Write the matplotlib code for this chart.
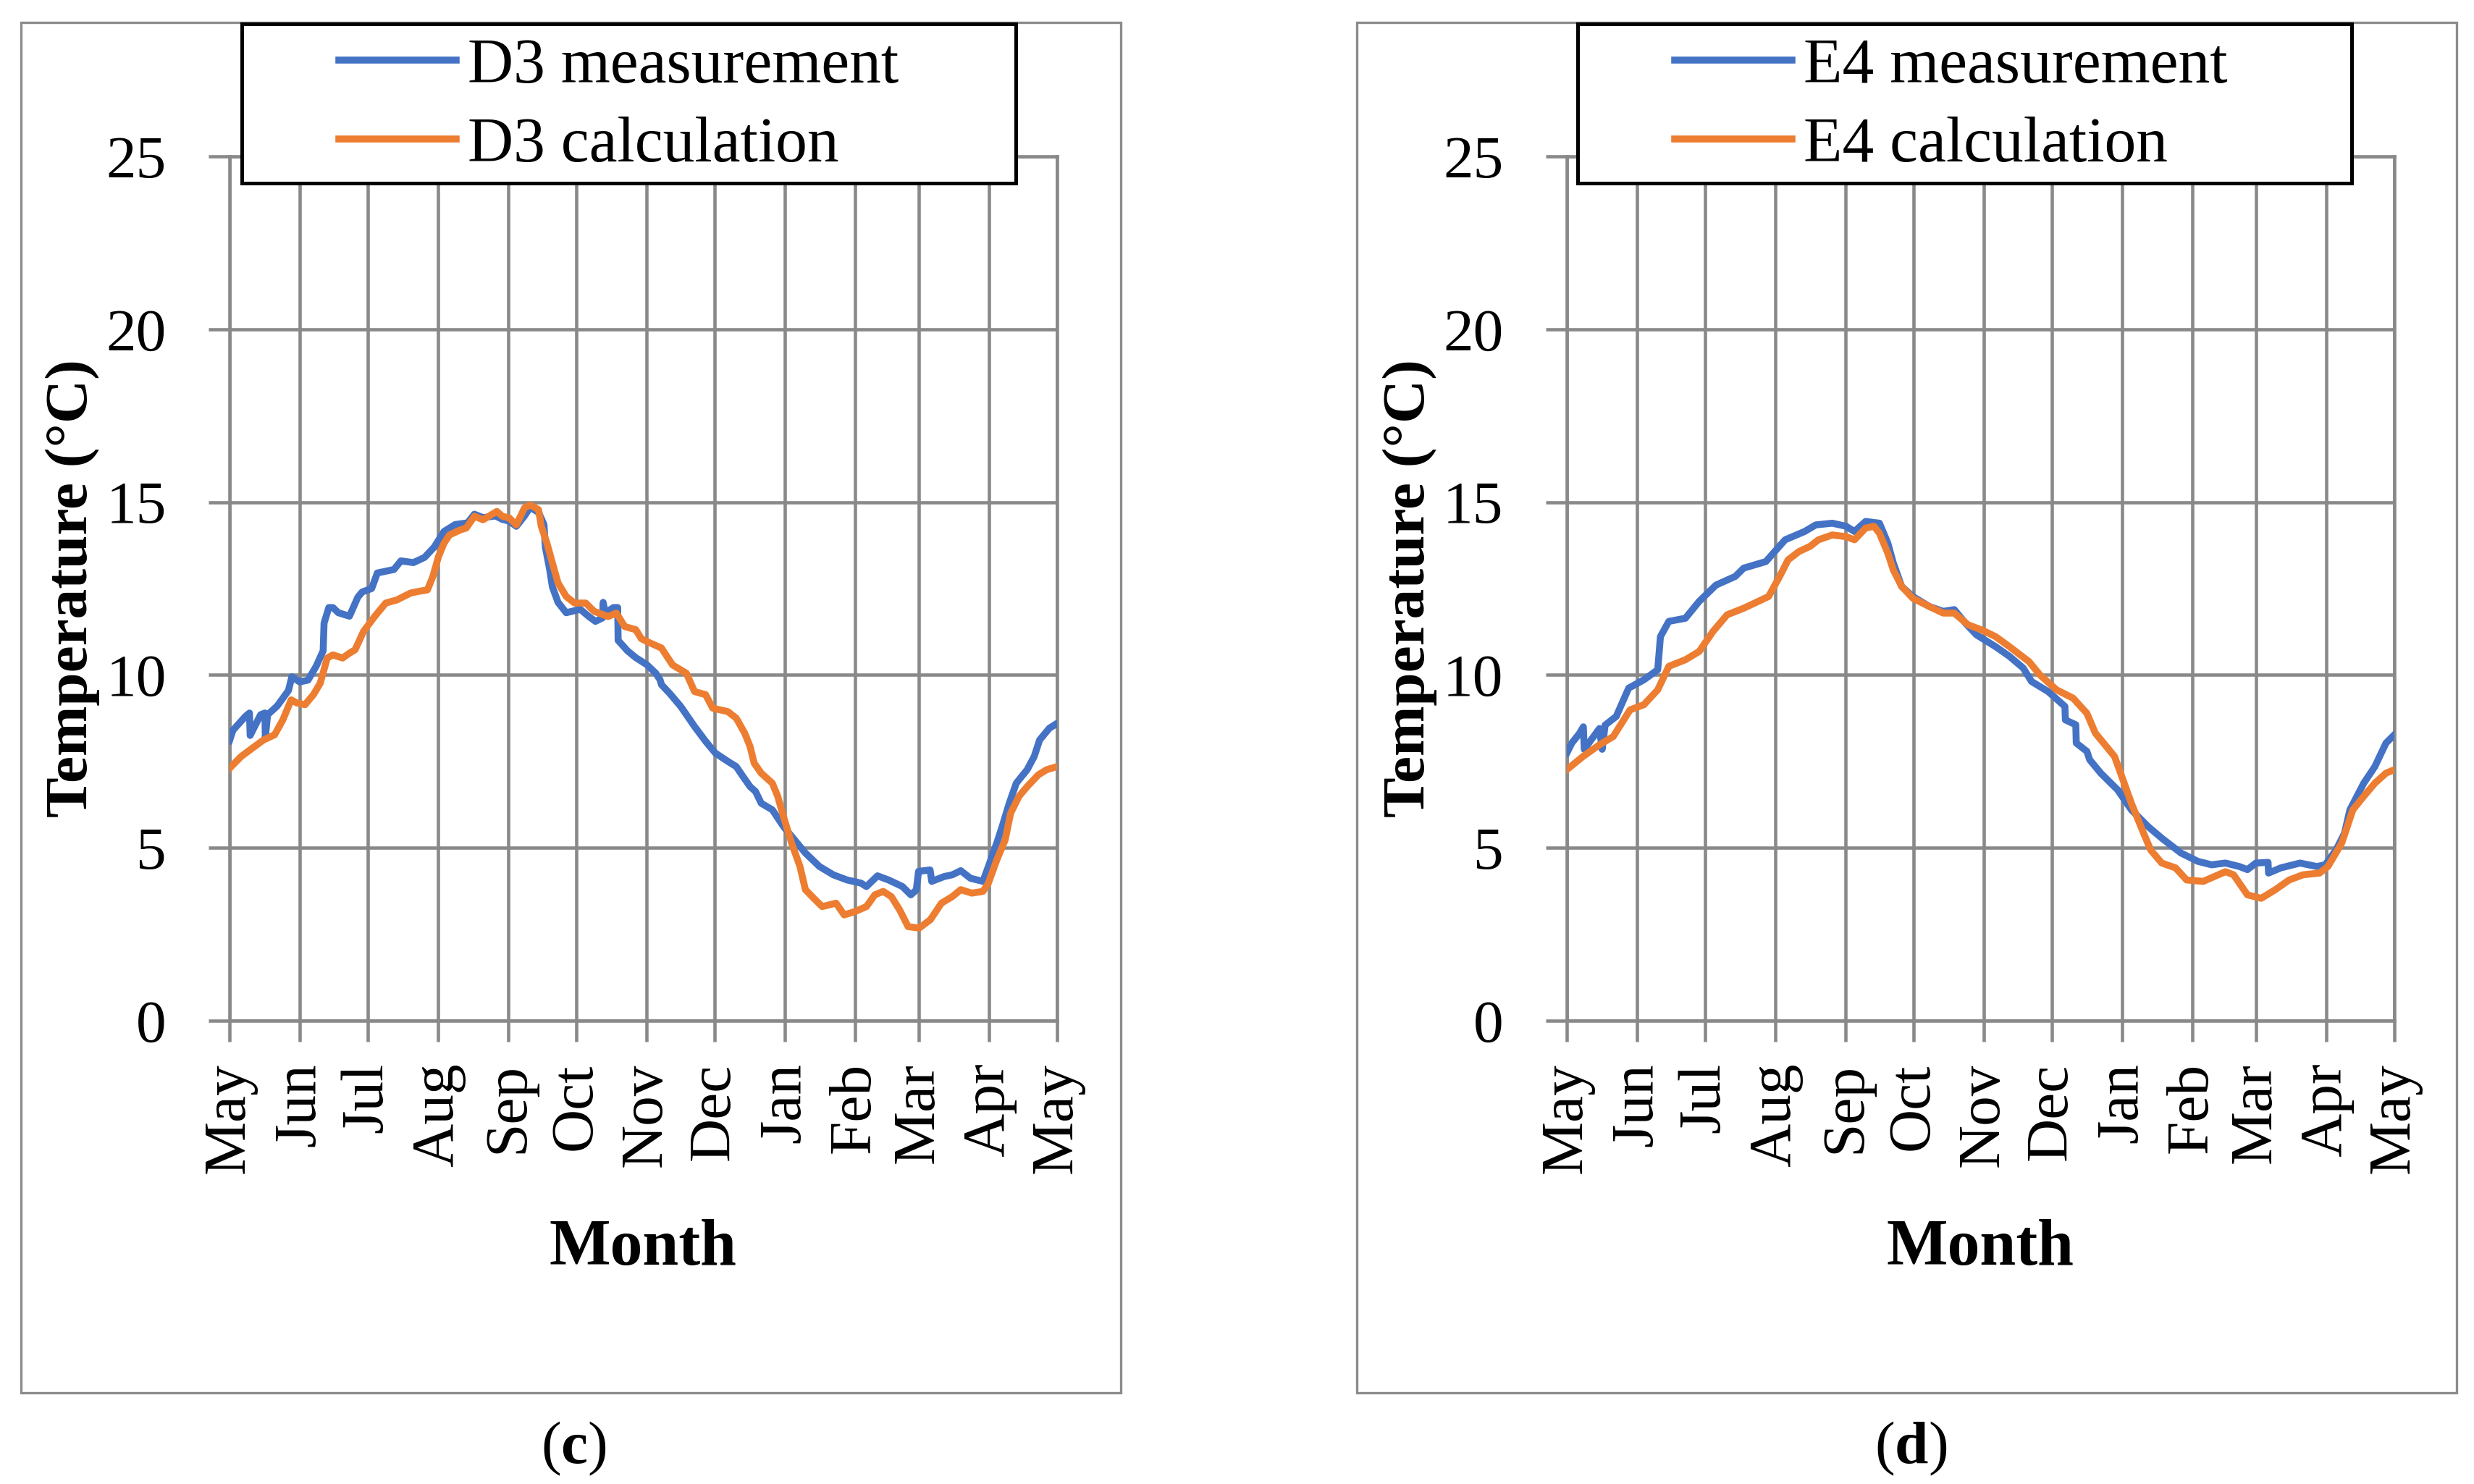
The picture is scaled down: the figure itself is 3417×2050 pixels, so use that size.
import matplotlib
matplotlib.use("Agg")
import matplotlib.pyplot as plt
import numpy as np
from matplotlib.patches import Rectangle
from matplotlib.lines import Line2D

# ---------------- data (day offset from 1 May, temperature °C) ----------------
month_labels = ["May", "Jun", "Jul", "Aug", "Sep", "Oct", "Nov", "Dec",
                "Jan", "Feb", "Mar", "Apr", "May"]
month_ticks = [0, 31, 61, 92, 123, 153, 184, 214, 245, 276, 304, 335, 365]
y_ticks = [0, 5, 10, 15, 20, 25]

d3_measurement = [
    (0, 8.1), (1.5, 8.4), (7, 8.8), (8.8, 8.9), (9.1, 8.25), (13.7, 8.85), (15.6, 8.9),
    (15.8, 8.2), (16.8, 8.85), (21, 9.1), (26, 9.55), (27.5, 9.95), (30.9, 9.8),
    (34.6, 9.85), (38.2, 10.25), (41.3, 10.7), (41.7, 11.5), (43.8, 11.95), (45.6, 11.95),
    (48, 11.8), (52.9, 11.7), (56.6, 12.25), (58.5, 12.4), (62.7, 12.5), (65.2, 12.95),
    (72.5, 13.05), (75.6, 13.3), (81.1, 13.25), (86, 13.4), (90.3, 13.7), (94.6, 14.15),
    (99.5, 14.35), (105, 14.4), (108, 14.65), (111.8, 14.55), (117.3, 14.6), (120.3, 14.5),
    (123.4, 14.45), (126.5, 14.3), (130.1, 14.6), (132.6, 14.85), (136.3, 14.7),
    (138.7, 14.35), (139.3, 13.7), (141.2, 13.05), (142.4, 12.55), (144.9, 12.1),
    (148.5, 11.8), (154.7, 11.9), (158.3, 11.7), (161.4, 11.55), (164.5, 11.65),
    (164.8, 12.1), (165.7, 11.8), (169.4, 11.95), (171.2, 11.95), (171.4, 11.0),
    (175.5, 10.7), (179.2, 10.5), (184, 10.3), (188, 10.05), (189.9, 9.86), (190.5, 9.72),
    (194.1, 9.47), (199, 9.09), (205.1, 8.51), (210, 8.08), (214.3, 7.74), (219.8, 7.5),
    (223.5, 7.35), (226.5, 7.06), (229.6, 6.77), (232, 6.63), (234.5, 6.29), (239.4, 6.1),
    (244.3, 5.62), (249.2, 5.23), (254, 4.85), (260.2, 4.46), (266.3, 4.22), (272.4, 4.07),
    (278.5, 3.98), (280.9, 3.88), (285.8, 4.19), (290.7, 4.07), (296.8, 3.88),
    (300.5, 3.64), (302.9, 3.78), (303.9, 4.32), (309, 4.36), (309.7, 4.03), (315.2, 4.17),
    (318.8, 4.22), (322.5, 4.34), (326.8, 4.12), (332.3, 4.03), (334.7, 4.46),
    (338.4, 5.14), (340.8, 5.62), (343.9, 6.29), (347, 6.87), (351.8, 7.26), (354.9, 7.64),
    (357.3, 8.12), (361.6, 8.46), (365, 8.6),
]

d3_calculation = [
    (0, 7.3), (5.1, 7.64), (10, 7.88), (15, 8.12), (19.9, 8.27), (23.5, 8.7), (27.2, 9.28),
    (29.7, 9.19), (33.3, 9.14), (37, 9.43), (40, 9.76), (43.1, 10.49), (45.6, 10.58),
    (49.9, 10.49), (52.9, 10.63), (55.4, 10.73), (59.1, 11.26), (64, 11.69), (68.9, 12.08),
    (73.8, 12.17), (79.9, 12.37), (83.6, 12.42), (87.3, 12.46), (89.7, 12.85),
    (92.2, 13.43), (94.6, 13.81), (97, 14.05), (102, 14.2), (104.4, 14.25), (108, 14.59),
    (111.8, 14.49), (117.9, 14.73), (120.3, 14.59), (123.4, 14.54), (126.5, 14.34),
    (130.1, 14.83), (132.6, 14.92), (136.3, 14.78), (137.5, 14.3), (140, 13.81),
    (142.4, 13.24), (144.9, 12.66), (148.5, 12.27), (152.2, 12.08), (157.1, 12.08),
    (160.8, 11.84), (167, 11.69), (170.6, 11.79), (174.3, 11.4), (179.2, 11.31),
    (181.6, 11.05), (184, 10.97), (190.5, 10.78), (195.4, 10.29), (201.5, 10.05),
    (205.1, 9.52), (210, 9.43), (213.1, 9.04), (219.8, 8.94), (223.5, 8.75), (227.2, 8.32),
    (229.6, 7.93), (231.4, 7.45), (234.5, 7.16), (239.4, 6.87), (241.8, 6.49),
    (244.3, 5.91), (247.9, 5.14), (251.6, 4.46), (254, 3.79), (257.7, 3.54), (261.4, 3.3),
    (267.5, 3.4), (271.1, 3.06), (276, 3.16), (280.9, 3.3), (284.6, 3.64), (288.3, 3.74),
    (291.9, 3.59), (295.6, 3.2), (299.3, 2.72), (304.2, 2.68), (309.1, 2.92), (314, 3.4),
    (318.8, 3.59), (322.5, 3.79), (327.4, 3.69), (332.3, 3.74), (334.7, 3.98),
    (338.4, 4.65), (342.1, 5.23), (344.5, 6.0), (348.2, 6.49), (351.8, 6.77),
    (356.7, 7.11), (360.4, 7.26), (365, 7.35),
]

e4_measurement = [
    (0, 7.74), (2.2, 8.03), (5.5, 8.3), (7.3, 8.5), (7.7, 7.85), (14.4, 8.45), (15.6, 7.85),
    (16.9, 8.55), (21.8, 8.8), (27.3, 9.62), (34, 9.86), (40.1, 10.15), (41.3, 11.11),
    (45, 11.55), (52.3, 11.64), (58.4, 12.13), (65.8, 12.6), (74.3, 12.85), (78, 13.09),
    (87.8, 13.28), (96.3, 13.91), (104.9, 14.15), (109.8, 14.34), (117.1, 14.39),
    (123.2, 14.3), (126.9, 14.15), (131.8, 14.44), (137.9, 14.39), (141.6, 13.81),
    (144, 13.24), (147.7, 12.56), (152.6, 12.27), (159.9, 11.98), (166, 11.84),
    (170.9, 11.89), (175.8, 11.5), (180.7, 11.16), (189.1, 10.82), (195.2, 10.54),
    (201.3, 10.2), (205, 9.81), (212.3, 9.52), (219.7, 9.09), (219.9, 8.7), (224.5, 8.56),
    (224.7, 8.03), (229.4, 7.79), (230.6, 7.55), (235.5, 7.16), (242.9, 6.68), (249, 6.1),
    (256.3, 5.62), (262.4, 5.28), (270.9, 4.85), (278.3, 4.61), (284.4, 4.51),
    (290.5, 4.56), (296.6, 4.46), (300.2, 4.37), (303.9, 4.56), (309.3, 4.58),
    (309.5, 4.27), (314.9, 4.42), (323.4, 4.56), (330.8, 4.46), (334.5, 4.51),
    (339.3, 4.94), (343, 5.42), (345.4, 6.1), (351.5, 6.87), (356.4, 7.35), (361.3, 8.03),
    (365, 8.27),
]

e4_calculation = [
    (0, 7.26), (7.1, 7.64), (14.4, 7.98), (20.5, 8.22), (27.9, 8.99), (34, 9.14),
    (40.1, 9.57), (45, 10.25), (52.3, 10.44), (58.4, 10.68), (64.5, 11.26), (70.7, 11.74),
    (78, 11.93), (82.9, 12.08), (89, 12.27), (93.9, 12.85), (97.6, 13.33), (102.4, 13.57),
    (107.3, 13.72), (111, 13.91), (117.1, 14.05), (123.2, 14.0), (126.9, 13.91),
    (131.8, 14.25), (135.5, 14.3), (137.9, 14.1), (141.6, 13.52), (144, 13.04),
    (147.7, 12.56), (152.6, 12.22), (159.9, 11.98), (166, 11.79), (170.9, 11.79),
    (177, 11.45), (183.1, 11.3), (189.1, 11.11), (195.2, 10.82), (203.8, 10.39),
    (208.7, 10.0), (216, 9.57), (223.3, 9.33), (229.4, 8.89), (233.1, 8.32), (238, 7.93),
    (241.6, 7.64), (245.3, 6.97), (249, 6.29), (253.8, 5.52), (257.5, 4.94), (262.4, 4.56),
    (268.5, 4.42), (273.4, 4.07), (280.7, 4.03), (285.6, 4.17), (290.5, 4.31),
    (294.1, 4.22), (300.2, 3.64), (306.3, 3.54), (312.5, 3.79), (318.6, 4.07),
    (324.7, 4.22), (332, 4.27), (335.7, 4.46), (341.8, 5.14), (346.7, 6.1), (351.5, 6.49),
    (356.4, 6.87), (361.3, 7.16), (365, 7.26),
]

panels = [
    ("D3 measurement", d3_measurement, "D3 calculation", d3_calculation, "c"),
    ("E4 measurement", e4_measurement, "E4 calculation", e4_calculation, "d"),
]

# ---------------- style ----------------
plt.rcParams["font.family"] = ["Liberation Serif", "DejaVu Serif"]
plt.rcParams["mathtext.fontset"] = "custom"
plt.rcParams["mathtext.rm"] = "Liberation Serif"
plt.rcParams["mathtext.bf"] = "Liberation Serif:bold"
BLUE = "#4472C4"
ORANGE = "#ED7D31"
GRID = "#898989"
FRAME = "#8c8c8c"

W, H, DPI = 3417, 2050, 300
fig = plt.figure(figsize=(W / DPI, H / DPI), dpi=DPI)
fig.patch.set_facecolor("white")


def fx(px):
    return px / W


def fy(py):
    return 1 - py / H


for i, (lab1, ser1, lab2, ser2, letter) in enumerate(panels):
    dx = 1847 * i      # axes offset
    dl = 1845 * i      # legend / frame offset

    # outer panel frame
    fig.add_artist(Rectangle((fx(29 + dl), fy(1924)), fx(1519), (1924 - 31) / H,
                             transform=fig.transFigure, fill=False, ec=FRAME,
                             lw=0.8, zorder=0))

    ax = fig.add_axes([fx(317 + dx), fy(1410), fx(1143), 1194 / H])
    d1, v1 = np.array(ser1).T
    d2, v2 = np.array(ser2).T
    ax.plot(d1, v1, color=BLUE, lw=2.3, solid_joinstyle="round", zorder=3)
    ax.plot(d2, v2, color=ORANGE, lw=2.3, solid_joinstyle="round", zorder=4)

    ax.set_xlim(0, 365)
    ax.set_ylim(0, 25)
    ax.set_xticks(month_ticks)
    ax.set_xticklabels(month_labels, rotation=90, ha="center", va="top")
    ax.set_yticks(y_ticks)
    ax.grid(True, color=GRID, lw=1.1)
    ax.set_axisbelow(True)
    for sp in ax.spines.values():
        sp.set_color(GRID)
        sp.set_linewidth(1.1)
    ax.tick_params(direction="out", length=7, width=1.1, color=GRID,
                   labelsize=20, labelcolor="black")
    ax.tick_params(axis="x", pad=7)
    ax.tick_params(axis="y", pad=14)

    ax.set_ylabel("Temperature (°C)", fontsize=20, fontweight="bold")
    ax.yaxis.set_label_coords(-0.157, 0.5)

    fig.text(fx(888 + dx), fy(1747), "Month", ha="center", va="baseline",
             fontsize=21.5, fontweight="bold")
    fig.text(fx(792 + dx), fy(2001), "(" + r"$\mathbf{" + letter + "}$" + ")",
             ha="center", va="center", fontsize=20)

    # legend box
    fig.add_artist(Rectangle((fx(334 + dl), fy(253)), fx(1069), 220 / H,
                             transform=fig.transFigure, fc="white", ec="black",
                             lw=1.2, zorder=4))
    handles = [Line2D([], [], color=BLUE, lw=2.3), Line2D([], [], color=ORANGE, lw=2.3)]
    leg = fig.legend(handles, [lab1, lab2], loc="center left",
                     bbox_to_anchor=(fx(468 + dl), fy(147)), frameon=False,
                     borderpad=0, borderaxespad=0, handlelength=1.85,
                     handletextpad=0.18, labelspacing=0.32, fontsize=21)
    leg.set_zorder(6)

fig.savefig("out.png", dpi=DPI, facecolor="white")
